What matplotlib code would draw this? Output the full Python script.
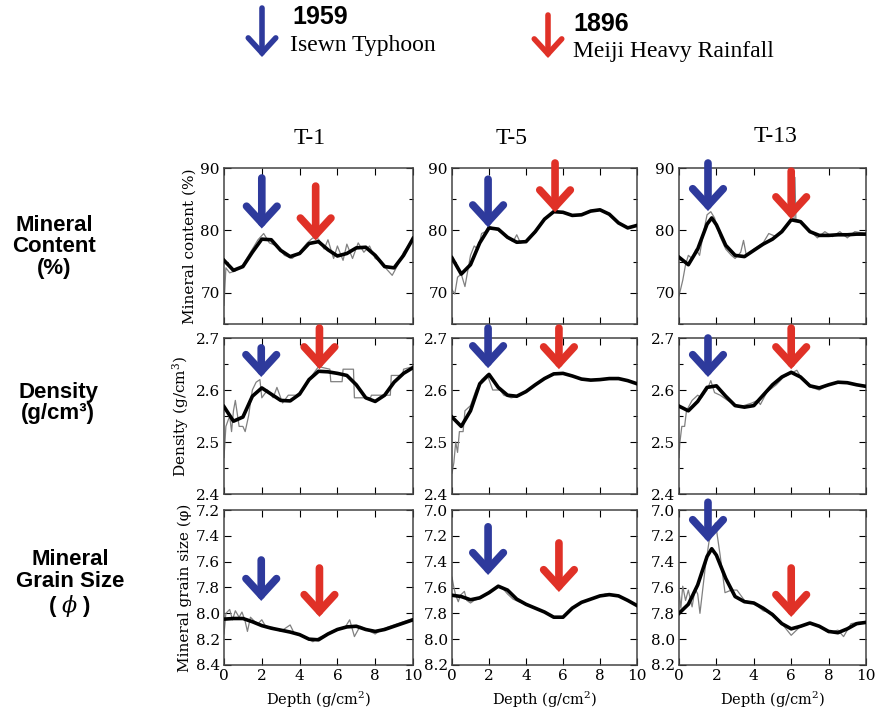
import matplotlib.pyplot as plt

plt.rcParams['mathtext.fontset'] = 'dejavuserif'

# depth grid of the smoothed curves (g/cm2)
grid = [0, 0.5, 1.0, 1.5, 2.0, 2.5, 3.0, 3.5, 4.0, 4.5, 5.0,
        5.5, 6.0, 6.5, 7.0, 7.5, 8.0, 8.5, 9.0, 9.5, 10.0]
grid_pk = [0, 0.5, 1.0, 1.5, 1.75, 2.0, 2.5, 3.0, 3.5, 4.0, 4.5, 5.0,
           5.5, 6.0, 6.5, 7.0, 7.5, 8.0, 8.5, 9.0, 9.5, 10.0]

cores = ['T-1', 'T-5', 'T-13']

# ---- mineral content (%) ----
t1_mineral_smooth = [75.2, 73.6, 74.2, 76.5, 78.6, 78.5, 76.8, 75.8, 76.3, 77.9, 78.2,
                     76.9, 75.9, 76.3, 77.2, 77.3, 76.0, 74.2, 74.0, 76.0, 78.7]
t5_mineral_smooth = [75.6, 73.0, 74.5, 78.0, 80.4, 80.2, 78.9, 78.1, 78.2, 79.8, 81.8,
                     83.0, 82.9, 82.4, 82.5, 83.1, 83.3, 82.6, 81.2, 80.4, 80.8]
t13_mineral_smooth = [75.7, 74.5, 77.0, 81.0, 82.0, 80.9, 77.6, 76.0, 75.8, 76.8, 77.8,
                      78.6, 79.8, 81.7, 81.4, 79.8, 79.2, 79.2, 79.3, 79.3, 79.4, 79.4]

t1_mineral_raw_depth = [0, 0.1, 0.3, 0.6, 1.0, 1.5, 1.8, 2.1, 2.4, 2.8, 3.2, 3.6, 4.0, 4.4,
                        4.7, 5.0, 5.3, 5.5, 5.8, 6.0, 6.3, 6.5, 6.8, 7.1, 7.4, 7.7, 8.0,
                        8.3, 8.6, 8.9, 9.2, 9.5, 9.8, 10]
t1_mineral_raw = [68.0, 74.0, 73.2, 73.5, 74.5, 77.0, 78.5, 79.5, 78.0, 77.5, 76.0, 75.5,
                  76.5, 78.0, 78.8, 78.6, 77.0, 78.5, 75.5, 77.5, 75.2, 77.8, 75.5, 78.0,
                  76.5, 77.5, 75.5, 75.0, 73.8, 72.8, 74.5, 76.5, 77.8, 78.8]
t5_mineral_raw_depth = [0, 0.15, 0.3, 0.5, 0.7, 0.85, 1.0, 1.2, 1.4, 1.6, 1.8, 2.0, 2.2,
                        2.5, 3.0, 3.3, 3.5, 3.7, 4.0, 4.5, 5.0, 5.5, 6.0, 6.5, 7.0, 7.5,
                        8.0, 8.5, 9.0, 9.5, 10]
t5_mineral_raw = [70.5, 69.8, 72.5, 73.0, 71.0, 73.5, 76.0, 77.5, 77.0, 79.5, 79.8, 80.8,
                  80.3, 80.0, 78.8, 78.2, 79.3, 78.0, 78.3, 79.6, 81.7, 83.1, 82.8, 82.4,
                  82.6, 83.0, 83.2, 82.7, 81.2, 80.5, 80.8]
t13_mineral_raw_depth = [0, 0.2, 0.35, 0.5, 0.7, 0.9, 1.1, 1.3, 1.5, 1.7, 1.9, 2.2, 2.5,
                         2.8, 3.0, 3.3, 3.45, 3.6, 4.0, 4.5, 4.8, 5.2, 5.5, 6.0, 6.15,
                         6.2, 6.25, 6.5, 7.0, 7.4, 7.8, 8.2, 8.6, 9.0, 9.4, 9.8, 10]
t13_mineral_raw = [69.5, 72.0, 74.5, 76.0, 75.5, 77.0, 76.0, 79.5, 82.5, 83.0, 82.0, 79.0,
                   77.0, 76.0, 75.5, 76.5, 78.4, 76.0, 77.0, 78.0, 79.5, 79.0, 80.0, 81.5,
                   81.8, 88.5, 81.8, 81.5, 80.0, 78.8, 79.8, 79.0, 79.8, 78.8, 79.8, 79.6,
                   79.5]

# ---- density (g/cm3) ----
t1_density_smooth = [2.568, 2.540, 2.548, 2.588, 2.604, 2.592, 2.580, 2.579, 2.592, 2.620,
                     2.636, 2.635, 2.632, 2.628, 2.610, 2.585, 2.578, 2.590, 2.615, 2.632,
                     2.643]
t5_density_smooth = [2.548, 2.530, 2.560, 2.612, 2.630, 2.605, 2.590, 2.588, 2.597, 2.610,
                     2.622, 2.631, 2.632, 2.627, 2.621, 2.619, 2.620, 2.622, 2.622, 2.618,
                     2.612]
t13_density_smooth = [2.569, 2.560, 2.578, 2.605, 2.608, 2.588, 2.570, 2.567, 2.570, 2.590,
                      2.610, 2.625, 2.634, 2.625, 2.608, 2.604, 2.610, 2.615, 2.614, 2.610,
                      2.607]

t1_density_raw_depth = [0, 0.1, 0.3, 0.4, 0.5, 0.6, 0.8, 1.0, 1.12, 1.3, 1.5, 1.7, 1.9,
                        2.0, 2.3, 2.6, 2.8, 3.1, 3.4, 3.8, 4.2, 4.6, 5.0, 5.6, 5.65, 6.25,
                        6.3, 6.85, 6.9, 7.75, 7.8, 8.8, 8.85, 9.45, 9.5, 10]
t1_density_raw = [2.47, 2.53, 2.55, 2.52, 2.56, 2.58, 2.53, 2.53, 2.52, 2.55, 2.60, 2.615,
                  2.62, 2.585, 2.60, 2.585, 2.605, 2.575, 2.59, 2.59, 2.60, 2.625, 2.645,
                  2.64, 2.616, 2.616, 2.64, 2.64, 2.585, 2.585, 2.59, 2.59, 2.628, 2.628,
                  2.64, 2.645]
t5_density_raw_depth = [0, 0.1, 0.2, 0.3, 0.4, 0.6, 0.7, 1.0, 1.3, 1.6, 1.9, 2.2, 2.6, 2.8,
                        3.2, 3.6, 4.0, 4.5, 5.0, 5.5, 6.0, 6.5, 7.0, 7.5, 8.0, 8.5, 9.0,
                        9.5, 10]
t5_density_raw = [2.44, 2.46, 2.50, 2.48, 2.52, 2.52, 2.56, 2.57, 2.60, 2.62, 2.63, 2.60,
                  2.60, 2.59, 2.585, 2.588, 2.598, 2.61, 2.622, 2.631, 2.632, 2.627, 2.621,
                  2.619, 2.62, 2.622, 2.622, 2.618, 2.612]
t13_density_raw_depth = [0, 0.05, 0.15, 0.3, 0.4, 0.7, 1.0, 1.2, 1.5, 1.7, 1.9, 2.2, 2.6,
                         3.2, 3.9, 4.2, 4.35, 4.7, 5.2, 5.6, 6.0, 6.3, 6.6, 7.0, 7.5, 8.0,
                         8.5, 9.0, 10]
t13_density_raw = [2.47, 2.50, 2.53, 2.53, 2.56, 2.58, 2.59, 2.585, 2.60, 2.618, 2.595,
                   2.59, 2.58, 2.567, 2.575, 2.58, 2.572, 2.596, 2.61, 2.625, 2.632, 2.638,
                   2.62, 2.606, 2.60, 2.61, 2.615, 2.613, 2.607]

# ---- mineral grain size (phi) ----
t1_grain_smooth = [8.045, 8.040, 8.040, 8.065, 8.095, 8.115, 8.130, 8.145, 8.165, 8.200,
                   8.205, 8.160, 8.125, 8.105, 8.100, 8.125, 8.140, 8.125, 8.100, 8.075,
                   8.050]
t5_grain_smooth = [7.660, 7.670, 7.695, 7.680, 7.640, 7.590, 7.620, 7.690, 7.730, 7.760,
                   7.790, 7.830, 7.830, 7.760, 7.715, 7.690, 7.665, 7.655, 7.665, 7.700,
                   7.740]
t13_grain_smooth = [7.80, 7.73, 7.58, 7.36, 7.30, 7.35, 7.53, 7.67, 7.71, 7.72, 7.76, 7.81,
                    7.88, 7.92, 7.90, 7.875, 7.90, 7.94, 7.95, 7.92, 7.88, 7.87]

t1_grain_raw_depth = [0, 0.1, 0.3, 0.45, 0.6, 0.8, 0.95, 1.1, 1.24, 1.4, 1.6, 1.8, 2.0,
                      2.2, 2.6, 3.0, 3.5, 3.7, 4.2, 4.7, 5.0, 5.3, 5.7, 6.0, 6.4, 6.65,
                      6.9, 7.2, 7.6, 8.0, 8.4, 8.8, 9.2, 9.6, 10]
t1_grain_raw = [8.16, 8.00, 7.97, 8.05, 7.98, 8.03, 7.99, 8.05, 8.14, 8.03, 8.06, 8.08,
                8.05, 8.10, 8.11, 8.14, 8.09, 8.15, 8.18, 8.22, 8.19, 8.17, 8.14, 8.12,
                8.11, 8.05, 8.18, 8.10, 8.13, 8.16, 8.12, 8.10, 8.08, 8.06, 8.04]
t5_grain_raw_depth = [0, 0.1, 0.2, 0.34, 0.45, 0.67, 0.8, 1.0, 1.2, 1.6, 2.0, 2.5, 2.7,
                      3.0, 3.3, 3.6, 4.0, 4.5, 5.0, 5.5, 6.0, 6.5, 7.0, 7.5, 8.0, 8.3,
                      8.5, 9.0, 9.5, 10]
t5_grain_raw = [7.52, 7.60, 7.66, 7.71, 7.66, 7.63, 7.70, 7.72, 7.70, 7.68, 7.64, 7.59,
                7.60, 7.65, 7.69, 7.71, 7.73, 7.76, 7.79, 7.83, 7.83, 7.76, 7.715, 7.69,
                7.665, 7.65, 7.655, 7.665, 7.70, 7.74]
t13_grain_raw_depth = [0, 0.1, 0.2, 0.35, 0.5, 0.7, 0.86, 1.0, 1.12, 1.4, 1.6, 1.8, 1.95,
                       2.2, 2.46, 2.8, 3.1, 3.5, 4.0, 4.5, 5.0, 5.5, 6.0, 6.5, 7.0, 7.5,
                       8.0, 8.5, 8.8, 9.2, 9.6, 10]
t13_grain_raw = [7.63, 7.76, 7.59, 7.70, 7.62, 7.75, 7.61, 7.65, 7.80, 7.45, 7.25, 7.15,
                 7.10, 7.35, 7.64, 7.62, 7.62, 7.70, 7.72, 7.78, 7.80, 7.88, 7.97, 7.90,
                 7.88, 7.90, 7.95, 7.93, 7.98, 7.88, 7.87, 7.87]

# event arrows per row: (depth, tail value, tip value) for T-1, T-5, T-13
mineral_blue = [(2.0, 88.4, 80.3), (1.95, 88.2, 80.5), (1.55, 90.8, 83.1)]
mineral_red = [(4.85, 87.1, 78.4), (5.57, 90.8, 82.9), (6.0, 89.5, 81.8)]
density_blue = [(1.97, 2.681, 2.625), (1.95, 2.719, 2.642), (1.55, 2.70, 2.625)]
density_red = [(5.05, 2.719, 2.640), (5.78, 2.719, 2.640), (6.0, 2.719, 2.640)]
grain_blue = [(1.97, 7.587, 7.904), (1.95, 7.13, 7.503), (1.55, 6.94, 7.248)]
grain_red = [(5.05, 7.649, 8.028), (5.78, 7.255, 7.635), (6.0, 7.449, 7.828)]

BLUE = '#2e3a9c'
RED = '#e03127'

rows = [
    dict(smooth=[t1_mineral_smooth, t5_mineral_smooth, t13_mineral_smooth],
         sdepth=[grid, grid, grid_pk],
         raw=[(t1_mineral_raw_depth, t1_mineral_raw), (t5_mineral_raw_depth, t5_mineral_raw),
              (t13_mineral_raw_depth, t13_mineral_raw)],
         blue=mineral_blue, red=mineral_red),
    dict(smooth=[t1_density_smooth, t5_density_smooth, t13_density_smooth],
         sdepth=[grid, grid, grid],
         raw=[(t1_density_raw_depth, t1_density_raw), (t5_density_raw_depth, t5_density_raw),
              (t13_density_raw_depth, t13_density_raw)],
         blue=density_blue, red=density_red),
    dict(smooth=[t1_grain_smooth, t5_grain_smooth, t13_grain_smooth],
         sdepth=[grid, grid, grid_pk],
         raw=[(t1_grain_raw_depth, t1_grain_raw), (t5_grain_raw_depth, t5_grain_raw),
              (t13_grain_raw_depth, t13_grain_raw)],
         blue=grain_blue, red=grain_red),
]

W, H = 883, 714
fig = plt.figure(figsize=(W / 100, H / 100), dpi=100)

# overlay in pixel coordinates for the free text and the key arrows
over = fig.add_axes([0, 0, 1, 1])
over.set_xlim(0, W)
over.set_ylim(H, 0)
over.axis('off')

col_left = [224, 452, 679]
col_width = [189, 185, 187]
row_top = [168, 338, 510]
row_height = [156, 156, 155]

serif = 'DejaVu Serif'
tick_fs = 11


def arrow(ax, x, tail, tip, color, lw=5.5, scale=20):
    ax.annotate('', xy=(x, tip), xytext=(x, tail), annotation_clip=False,
                arrowprops=dict(arrowstyle='->,head_length=0.6,head_width=0.55',
                                lw=lw, color=color, mutation_scale=scale,
                                shrinkA=0, shrinkB=0, joinstyle='miter'))


for r, row in enumerate(rows):
    for c in range(3):
        ax = fig.add_axes([col_left[c] / W, 1 - (row_top[r] + row_height[r]) / H,
                           col_width[c] / W, row_height[r] / H])
        rd, rv = row['raw'][c]
        ax.plot(rd, rv, color='#808080', lw=0.9, zorder=2)
        ax.plot(row['sdepth'][c], row['smooth'][c], color='black', lw=2.6, zorder=3,
                solid_joinstyle='round')
        ax.set_xlim(0, 10)
        ax.set_xticks([0, 2, 4, 6, 8, 10])
        if r == 0:
            ax.set_ylim(65, 90)
            ax.set_yticks([70, 80, 90])
            ax.set_yticks([65, 75, 85], minor=True)
        elif r == 1:
            ax.set_ylim(2.4, 2.7)
            ax.set_yticks([2.4, 2.5, 2.6, 2.7])
            ax.set_yticklabels(['2.4', '2.5', '2.6', '2.7'])
            ax.set_yticks([2.45, 2.55, 2.65], minor=True)
        else:
            if c == 0:
                yt = [7.2, 7.4, 7.6, 7.8, 8.0, 8.2, 8.4]
            else:
                yt = [7.0, 7.2, 7.4, 7.6, 7.8, 8.0, 8.2]
            ax.set_ylim(yt[-1], yt[0])
            ax.set_yticks(yt)
            ax.set_yticklabels(['%.1f' % v for v in yt])
        ax.tick_params(which='both', direction='in', top=True, right=True,
                       labelsize=tick_fs, pad=3, width=0.8)
        ax.tick_params(which='major', length=5)
        ax.tick_params(which='minor', length=3)
        for lab in ax.get_xticklabels() + ax.get_yticklabels():
            lab.set_fontfamily(serif)
        if r < 2:
            ax.set_xticklabels([])
        else:
            ax.set_xlabel('Depth (g/cm$^2$)', fontfamily=serif, fontsize=10.5, labelpad=5)
        for s in ax.spines.values():
            s.set_linewidth(1.1)
            s.set_color('#444444')
        if c == 0:
            ylab = ['Mineral content (%)', 'Density (g/cm$^3$)', 'Mineral grain size (φ)'][r]
            ax.set_ylabel(ylab, fontfamily=serif, fontsize=11, labelpad=3)
        bx, bt, bp = row['blue'][c]
        arrow(ax, bx, bt, bp, BLUE)
        rx, rt, rp = row['red'][c]
        arrow(ax, rx, rt, rp, RED)

# column titles
for name, x, y in zip(cores, [310, 512, 775], [139, 139, 136]):
    over.text(x, y, name, ha='center', va='center', fontsize=17,
              fontfamily='Liberation Serif')

# row titles
row_titles = ['Mineral\nContent\n(%)', 'Density\n(g/cm³)', 'Mineral\nGrain Size\n( $\\phi$ )']
for txt, x, y in zip(row_titles, [54, 58, 70], [247, 403, 584]):
    over.text(x, y, txt, ha='center', va='center', fontsize=16, fontweight='bold',
              fontfamily='Liberation Sans', linespacing=1.05)

# key at the top
arrow(over, 262, 8, 57, BLUE, lw=4, scale=18)
arrow(over, 548, 15, 58, RED, lw=4, scale=18)
over.text(292, 17, '1959', ha='left', va='center', fontsize=18, fontweight='bold',
          fontfamily='Liberation Sans')
over.text(290, 46, 'Isewn Typhoon', ha='left', va='center', fontsize=17,
          fontfamily='Liberation Serif')
over.text(573, 24, '1896', ha='left', va='center', fontsize=18, fontweight='bold',
          fontfamily='Liberation Sans')
over.text(573, 52, 'Meiji Heavy Rainfall', ha='left', va='center', fontsize=17,
          fontfamily='Liberation Serif')

fig.savefig('out.png', dpi=100)
